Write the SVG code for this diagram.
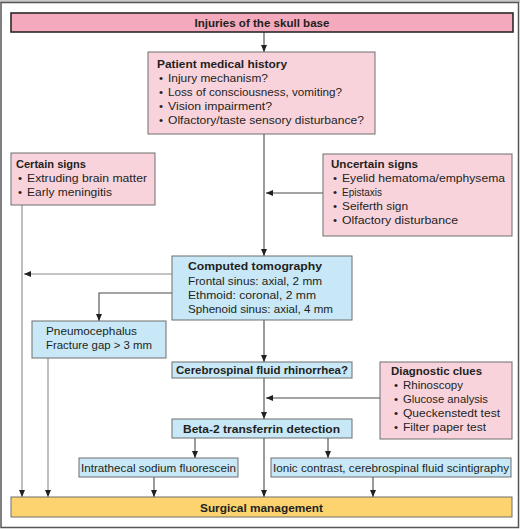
<svg xmlns="http://www.w3.org/2000/svg" width="520" height="529" viewBox="0 0 520 529">
<style>
text{font-family:"Liberation Sans",Arial,sans-serif;font-size:11.5px;fill:#231f20}
.b{font-weight:bold}
.pk{fill:#f9d3dc;stroke:#6e6e6e;stroke-width:1}
.bl{fill:#c8e8f7;stroke:#6e6e6e;stroke-width:1}
.ln{fill:none;stroke:#4a4a4a;stroke-width:1.1}
.lg{fill:none;stroke:#8a8a8a;stroke-width:1.1}
</style>
<defs>
<marker id="ah" markerUnits="userSpaceOnUse" markerWidth="8" markerHeight="8" viewBox="0 0 8 8" refX="7" refY="4" orient="auto">
<path d="M0,1 L7,4 L0,7 z" fill="#231f20"/>
</marker>
</defs>
<rect x="0" y="0" width="520" height="529" fill="#fff"/>
<rect x="0" y="0" width="520" height="2.5" fill="#c9c9c9"/>
<rect x="1" y="2.5" width="517.5" height="525" fill="none" stroke="#555" stroke-width="1.5"/>

<g id="connectors">
<line class="ln" x1="264" y1="32" x2="264" y2="52" marker-end="url(#ah)"/>
<line class="ln" x1="264" y1="134" x2="264" y2="256" marker-end="url(#ah)"/>
<line class="ln" x1="323" y1="193" x2="266" y2="193" marker-end="url(#ah)"/>
<line class="lg" x1="172" y1="274" x2="24" y2="274" marker-end="url(#ah)"/>
<line class="lg" x1="22" y1="205" x2="22" y2="497" marker-end="url(#ah)"/>
<polyline class="ln" points="172,293 99,293 99,321" marker-end="url(#ah)"/>
<line class="ln" x1="264" y1="320" x2="264" y2="362" marker-end="url(#ah)"/>
<line class="lg" x1="48" y1="358" x2="48" y2="497" marker-end="url(#ah)"/>
<line class="ln" x1="264" y1="378" x2="264" y2="419" marker-end="url(#ah)"/>
<line class="ln" x1="380" y1="398" x2="266" y2="398" marker-end="url(#ah)"/>
<line class="ln" x1="195" y1="438" x2="195" y2="458" marker-end="url(#ah)"/>
<line class="ln" x1="264" y1="438" x2="264" y2="497" marker-end="url(#ah)"/>
<line class="ln" x1="328" y1="438" x2="328" y2="458" marker-end="url(#ah)"/>
<line class="ln" x1="154" y1="477" x2="154" y2="497" marker-end="url(#ah)"/>
<line class="ln" x1="373" y1="477" x2="373" y2="497" marker-end="url(#ah)"/>
</g>

<g id="title">
<rect x="11" y="13" width="502" height="19" fill="#f5a9bc" stroke="#2a2a2a" stroke-width="1.6"/>
<text class="b" x="262" y="27" text-anchor="middle" textLength="135" lengthAdjust="spacingAndGlyphs">Injuries of the skull base</text>
</g>

<g id="history">
<rect class="pk" x="148" y="52" width="227" height="82"/>
<text class="b" x="157" y="68" textLength="130" lengthAdjust="spacingAndGlyphs">Patient medical history</text>
<text x="159" y="82">•</text><text x="168" y="82" textLength="100" lengthAdjust="spacingAndGlyphs">Injury mechanism?</text>
<text x="159" y="96">•</text><text x="168" y="96" textLength="174" lengthAdjust="spacingAndGlyphs">Loss of consciousness, vomiting?</text>
<text x="159" y="110">•</text><text x="168" y="110" textLength="104" lengthAdjust="spacingAndGlyphs">Vision impairment?</text>
<text x="159" y="124">•</text><text x="168" y="124" textLength="196" lengthAdjust="spacingAndGlyphs">Olfactory/taste sensory disturbance?</text>
</g>

<g id="certain">
<rect class="pk" x="11" y="153" width="144" height="52"/>
<text class="b" x="16" y="168" textLength="70" lengthAdjust="spacingAndGlyphs">Certain signs</text>
<text x="18" y="182">•</text><text x="27" y="182" textLength="120" lengthAdjust="spacingAndGlyphs">Extruding brain matter</text>
<text x="18" y="196">•</text><text x="27" y="196" textLength="85" lengthAdjust="spacingAndGlyphs">Early meningitis</text>
</g>

<g id="uncertain">
<rect class="pk" x="323" y="154" width="189" height="82"/>
<text class="b" x="331" y="168" textLength="87" lengthAdjust="spacingAndGlyphs">Uncertain signs</text>
<text x="333" y="182">•</text><text x="342" y="182" textLength="163" lengthAdjust="spacingAndGlyphs">Eyelid hematoma/emphysema</text>
<text x="333" y="196">•</text><text x="342" y="196" textLength="40" lengthAdjust="spacingAndGlyphs">Epistaxis</text>
<text x="333" y="210">•</text><text x="342" y="210" textLength="66" lengthAdjust="spacingAndGlyphs">Seiferth sign</text>
<text x="333" y="224">•</text><text x="342" y="224" textLength="116" lengthAdjust="spacingAndGlyphs">Olfactory disturbance</text>
</g>

<g id="ct">
<rect class="bl" x="172" y="256" width="180" height="64"/>
<text class="b" x="188" y="270" textLength="134" lengthAdjust="spacingAndGlyphs">Computed tomography</text>
<text x="188" y="285" textLength="134" lengthAdjust="spacingAndGlyphs">Frontal sinus: axial, 2 mm</text>
<text x="188" y="299" textLength="128" lengthAdjust="spacingAndGlyphs">Ethmoid: coronal, 2 mm</text>
<text x="188" y="313" textLength="145" lengthAdjust="spacingAndGlyphs">Sphenoid sinus: axial, 4 mm</text>
</g>

<g id="pneumo">
<rect class="bl" x="32" y="321" width="134" height="37"/>
<text x="46" y="335" textLength="91" lengthAdjust="spacingAndGlyphs">Pneumocephalus</text>
<text x="46" y="349" textLength="106" lengthAdjust="spacingAndGlyphs">Fracture gap &gt; 3 mm</text>
</g>

<g id="csf">
<rect class="bl" x="172" y="362" width="180" height="16"/>
<text class="b" x="262" y="374" text-anchor="middle" textLength="172" lengthAdjust="spacingAndGlyphs">Cerebrospinal fluid rhinorrhea?</text>
</g>

<g id="clues">
<rect class="pk" x="380" y="362" width="132" height="77"/>
<text class="b" x="391" y="375" textLength="91" lengthAdjust="spacingAndGlyphs">Diagnostic clues</text>
<text x="394" y="389">•</text><text x="403" y="389" textLength="60" lengthAdjust="spacingAndGlyphs">Rhinoscopy</text>
<text x="394" y="403">•</text><text x="403" y="403" textLength="85" lengthAdjust="spacingAndGlyphs">Glucose analysis</text>
<text x="394" y="417">•</text><text x="403" y="417" textLength="97" lengthAdjust="spacingAndGlyphs">Queckenstedt test</text>
<text x="394" y="431">•</text><text x="403" y="431" textLength="83" lengthAdjust="spacingAndGlyphs">Filter paper test</text>
</g>

<g id="beta2">
<rect class="bl" x="172" y="419" width="180" height="19"/>
<text class="b" x="261.5" y="433" text-anchor="middle" textLength="157" lengthAdjust="spacingAndGlyphs">Beta-2 transferrin detection</text>
</g>

<g id="intrathecal">
<rect class="bl" x="79" y="458" width="159" height="19"/>
<text x="81" y="472" textLength="155" lengthAdjust="spacingAndGlyphs">Intrathecal sodium fluorescein</text>
</g>

<g id="ionic">
<rect class="bl" x="271" y="458" width="240" height="19"/>
<text x="273" y="472" textLength="236" lengthAdjust="spacingAndGlyphs">Ionic contrast, cerebrospinal fluid scintigraphy</text>
</g>

<g id="surgical">
<rect x="11" y="497" width="501" height="20" fill="#fcd36e" stroke="#6e6e6e" stroke-width="1"/>
<text class="b" x="261.5" y="512" text-anchor="middle" textLength="123" lengthAdjust="spacingAndGlyphs">Surgical management</text>
</g>
</svg>
